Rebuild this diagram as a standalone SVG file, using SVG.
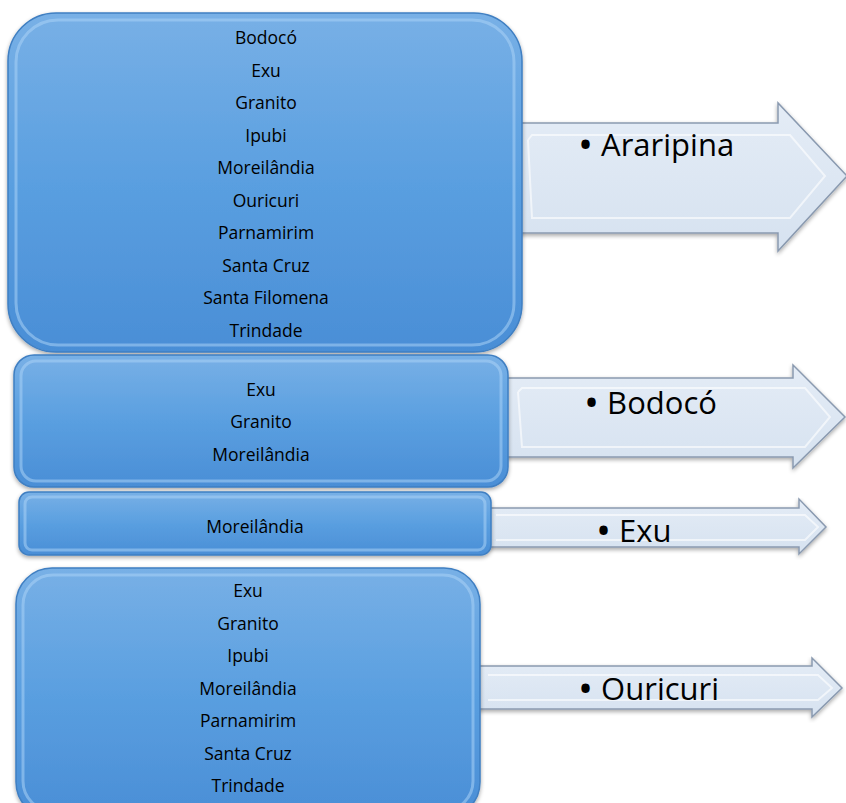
<svg xmlns="http://www.w3.org/2000/svg" width="846" height="803" viewBox="0 0 846 803">
<defs>
<linearGradient id="boxg" x1="0" y1="0" x2="0" y2="1">
<stop offset="0" stop-color="#78b0e6"/>
<stop offset="0.5" stop-color="#5a9fe0"/>
<stop offset="1" stop-color="#4a8ed6"/>
</linearGradient>
<linearGradient id="arrg" x1="0" y1="0" x2="0" y2="1">
<stop offset="0" stop-color="#e4ecf6"/>
<stop offset="1" stop-color="#d6e2f0"/>
</linearGradient>
<filter id="sh" x="-5%" y="-5%" width="110%" height="115%">
<feGaussianBlur in="SourceAlpha" stdDeviation="2"/>
<feOffset dx="0" dy="2"/>
<feComponentTransfer><feFuncA type="linear" slope="0.35"/></feComponentTransfer>
<feMerge><feMergeNode/><feMergeNode in="SourceGraphic"/></feMerge>
</filter>
</defs>
<style>
.box{fill:url(#boxg);stroke:#3f7fc2;stroke-width:1.5}
.bev{fill:none;stroke:#a9d2f5;stroke-opacity:0.55;stroke-width:3}
.arr{fill:url(#arrg);stroke:#8a9ab0;stroke-width:1.5}
.abev{fill:none;stroke:#ffffff;stroke-opacity:0.6;stroke-width:2}
.t{font-family:"Open Sans","Liberation Sans",sans-serif;font-size:17.5px;fill:#000;text-anchor:middle}
.big{font-family:"Open Sans","Liberation Sans",sans-serif;font-size:31px;fill:#000}
.bul{font-size:40px}
</style>
<g id="connectors">
<g id="arrow1">
<polygon class="arr" filter="url(#sh)" points="500,123 778,123 778,103 847,176 778,251 778,233 500,233"/>
<polyline class="abev" points="528,140 532,135 790,135 825,176 790,218 532,218 528,140"/>
<text class="big" x="578" y="156"><tspan class="bul" dy="3">•</tspan><tspan dy="-3"> Araripina</tspan></text>
</g>
<g id="arrow2">
<polygon class="arr" filter="url(#sh)" points="490,378 793,378 793,365 845,417 793,468 793,457 490,457"/>
<polyline class="abev" points="518,392 522,388 805,388 830,417 805,447 522,447 518,392"/>
<text class="big" x="584" y="414"><tspan class="bul" dy="3">•</tspan><tspan dy="-3"> Bodocó</tspan></text>
</g>
<g id="arrow3">
<polygon class="arr" filter="url(#sh)" points="480,508 799,508 799,499 826,527 799,554 799,547 480,547"/>
<polyline class="abev" points="496,515 805,515 818,527 805,540 496,540"/>
<text class="big" x="596" y="542"><tspan class="bul" dy="3">•</tspan><tspan dy="-3"> Exu</tspan></text>
</g>
<g id="arrow4">
<polygon class="arr" filter="url(#sh)" points="470,666 812,666 812,658 842,688 812,717 812,709 470,709"/>
<polyline class="abev" points="488,675 818,675 832,688 818,700 488,700"/>
<text class="big" x="578" y="700"><tspan class="bul" dy="3">•</tspan><tspan dy="-3"> Ouricuri</tspan></text>
</g>
</g>
<g id="box1">
<rect class="box" filter="url(#sh)" x="8" y="13" width="514" height="339" rx="48"/>
<rect class="bev" x="16" y="20" width="498" height="325" rx="42"/>
<text class="t" x="266" y="44">Bodocó</text>
<text class="t" x="266" y="77">Exu</text>
<text class="t" x="266" y="109">Granito</text>
<text class="t" x="266" y="142">Ipubi</text>
<text class="t" x="266" y="174">Moreilândia</text>
<text class="t" x="266" y="207">Ouricuri</text>
<text class="t" x="266" y="239">Parnamirim</text>
<text class="t" x="266" y="272">Santa Cruz</text>
<text class="t" x="266" y="304">Santa Filomena</text>
<text class="t" x="266" y="337">Trindade</text>
</g>
<g id="box2">
<rect class="box" filter="url(#sh)" x="14" y="355" width="494" height="132" rx="20"/>
<rect class="bev" x="21" y="361" width="480" height="120" rx="15"/>
<text class="t" x="261" y="396">Exu</text>
<text class="t" x="261" y="428">Granito</text>
<text class="t" x="261" y="461">Moreilândia</text>
</g>
<g id="box3">
<rect class="box" filter="url(#sh)" x="19" y="492" width="472" height="63" rx="10"/>
<rect class="bev" x="25" y="497" width="460" height="53" rx="7"/>
<text class="t" x="255" y="533">Moreilândia</text>
</g>
<g id="box4">
<rect class="box" filter="url(#sh)" x="16" y="568" width="464" height="250" rx="36"/>
<rect class="bev" x="23" y="575" width="450" height="236" rx="30"/>
<text class="t" x="248" y="597">Exu</text>
<text class="t" x="248" y="630">Granito</text>
<text class="t" x="248" y="662">Ipubi</text>
<text class="t" x="248" y="695">Moreilândia</text>
<text class="t" x="248" y="727">Parnamirim</text>
<text class="t" x="248" y="760">Santa Cruz</text>
<text class="t" x="248" y="792">Trindade</text>
</g>
</svg>
